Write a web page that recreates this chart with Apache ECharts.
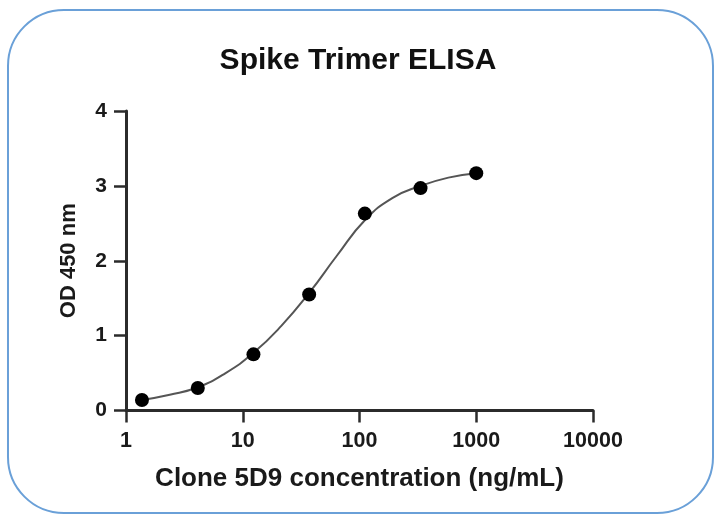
<!DOCTYPE html>
<html>
<head>
<meta charset="utf-8">
<script src="https://cdn.jsdelivr.net/npm/echarts@6/dist/echarts.min.js"></script>
<style>
html,body{margin:0;padding:0;background:#fff;}
#c{width:716px;height:515px;}
</style>
</head>
<body>
<div id="c"></div>
<script>
// Measured data points (concentration ng/mL, OD 450 nm)
const concentrations = [1.37, 4.12, 12.35, 37.04, 111.1, 333.3, 1000];
const odValues = [0.14, 0.30, 0.75, 1.55, 2.63, 2.97, 3.17];
// Fitted curve
const curveX = [1.37, 2.37, 4.12, 7.13, 12.35, 21.4, 37.04, 64.2, 111.1, 192.5, 333.3, 577, 1000];
const curveY = [0.14, 0.21, 0.31, 0.50, 0.77, 1.13, 1.57, 2.07, 2.54, 2.84, 3.00, 3.11, 3.17];
const xTicks = [1, 10, 100, 1000, 10000];
const yTicks = [0, 1, 2, 3, 4];

const font = '"Liberation Sans", Arial, sans-serif';
const axisColor = '#2b2b2b';

const chart = echarts.init(document.getElementById('c'), null, {renderer: 'canvas'});
chart.setOption({
  backgroundColor: '#fff',
  animation: false,
  title: {
    text: 'Spike Trimer ELISA',
    left: 'center',
    top: 41,
    textStyle: {fontFamily: font, fontWeight: 'bold', fontSize: 30, color: '#111'}
  },
  graphic: [{
    type: 'rect',
    shape: {x: 8, y: 10, width: 705, height: 503, r: 56},
    style: {fill: null, stroke: '#6aa0d8', lineWidth: 2},
    silent: true,
    z: -1
  }],
  grid: {left: 126, right: 123, top: 111, bottom: 104.5},
  xAxis: {
    type: 'log',
    logBase: 10,
    min: xTicks[0],
    max: xTicks[xTicks.length - 1],
    name: 'Clone 5D9 concentration (ng/mL)',
    nameLocation: 'middle',
    nameGap: 55,
    nameTextStyle: {fontFamily: font, fontWeight: 'bold', fontSize: 26, color: '#1a1a1a'},
    axisLine: {show: true, onZero: false, lineStyle: {color: axisColor, width: 3}},
    axisTick: {show: true, length: 12, lineStyle: {color: axisColor, width: 2.5}},
    minorTick: {show: false},
    splitLine: {show: false},
    axisLabel: {
      margin: 20,
      fontFamily: font, fontWeight: 'bold', fontSize: 21.5, color: '#1a1a1a',
      formatter: function (v) { return String(Math.round(v)); }
    }
  },
  yAxis: {
    type: 'value',
    min: yTicks[0],
    max: yTicks[yTicks.length - 1],
    interval: 1,
    name: 'OD 450 nm',
    nameLocation: 'middle',
    nameGap: 46,
    nameTextStyle: {fontFamily: font, fontWeight: 'bold', fontSize: 22, color: '#1a1a1a'},
    axisLine: {show: true, lineStyle: {color: axisColor, width: 3}},
    axisTick: {show: true, length: 12, lineStyle: {color: axisColor, width: 2.5}},
    splitLine: {show: false},
    axisLabel: {margin: 19, fontFamily: font, fontWeight: 'bold', fontSize: 21, color: '#1a1a1a'}
  },
  series: [
    {
      type: 'line',
      data: curveX.map((x, i) => [x, curveY[i]]),
      smooth: 0.5,
      showSymbol: false,
      symbol: 'none',
      lineStyle: {color: '#555', width: 2},
      z: 2
    },
    {
      type: 'scatter',
      data: concentrations.map((x, i) => [x, odValues[i]]),
      symbol: 'circle',
      symbolSize: 14,
      itemStyle: {color: '#000', opacity: 1},
      z: 3
    }
  ]
});
</script>
</body>
</html>
